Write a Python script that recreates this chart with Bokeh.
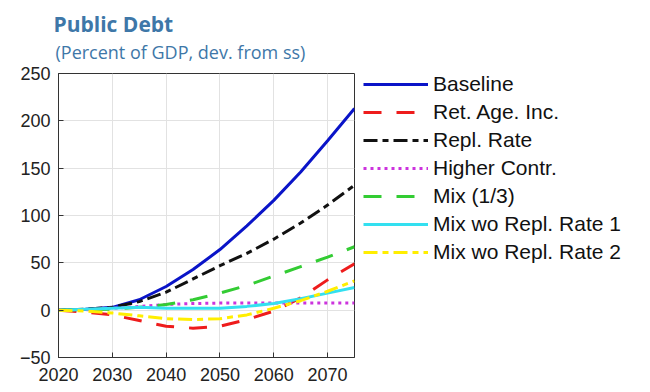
from bokeh.plotting import figure
from bokeh.models import Legend, LegendItem, Title, Range1d, FixedTicker
from bokeh.embed import file_html
from bokeh.resources import INLINE

years = [2020, 2025, 2030, 2035, 2040, 2045, 2050, 2055, 2060, 2065, 2070, 2075]
baseline = [0, 1, 3, 11, 25, 43, 64, 89, 116, 146, 179, 213]
ret_age = [0, -2, -5, -11, -17, -19, -17, -10, -1, 13, 32, 49]
repl_rate = [0, 1, 3, 9, 19, 33, 47, 60, 75, 92, 111, 132]
higher_contr = [0, 0.5, 2, 4, 6, 7, 7.5, 7.5, 7.5, 7.5, 7.5, 7.5]
mix13 = [0, 0.5, 1, 3, 6, 11, 18, 26, 36, 46, 56, 67]
mix_wo1 = [0, 1, 2, 3, 2, 2, 2, 4, 7, 12, 18, 24]
mix_wo2 = [0, -1, -3, -6, -9, -10, -9, -5, 2, 10, 20, 31]

names = ["Baseline", "Ret. Age. Inc.", "Repl. Rate", "Higher Contr.", "Mix (1/3)",
         "Mix wo Repl. Rate 1", "Mix wo Repl. Rate 2"]
series = [baseline, ret_age, repl_rate, higher_contr, mix13, mix_wo1, mix_wo2]
colors = ["#0a14c8", "#ee1c1c", "#111111", "#cc33dd", "#33cc33", "#33e0f0", "#ffee00"]
dashes = ["solid", "18 15", "14 5 6 5", "3 4", "18 15", "solid", "14 5 6 5"]

x_ticks = [2020, 2030, 2040, 2050, 2060, 2070]
y_ticks = [-50, 0, 50, 100, 150, 200, 250]

p = figure(frame_width=296, frame_height=284, output_backend="svg", toolbar_location=None,
           x_range=Range1d(2020, 2075), y_range=Range1d(-50, 250),
           min_border_left=58, min_border_top=73, min_border_right=288, min_border_bottom=27)
p.outline_line_color = "#333333"
p.background_fill_color = "white"
p.border_fill_color = "white"

for ax in (p.xaxis[0], p.yaxis[0]):
    ax.major_label_text_font = "Liberation Sans"
    ax.major_label_text_font_size = "18px"
    ax.major_label_text_color = "#222222"
    ax.axis_line_color = "#333333"
    ax.major_tick_line_color = "#333333"
    ax.major_tick_in = 5
    ax.major_tick_out = 0
    ax.minor_tick_line_color = None
p.xaxis.ticker = FixedTicker(ticks=x_ticks)
p.yaxis.ticker = FixedTicker(ticks=y_ticks)
p.xaxis.major_label_standoff = 10
p.yaxis.major_label_standoff = 8

p.xgrid.ticker = FixedTicker(ticks=x_ticks)
p.ygrid.ticker = FixedTicker(ticks=y_ticks)
p.grid.grid_line_color = "#e2e2e2"
p.grid.grid_line_width = 1

items = []
for name, ys, c, d in zip(names, series, colors, dashes):
    r = p.line(years, ys, line_color=c, line_width=3, line_dash=d)
    items.append(LegendItem(label=name, renderers=[r]))

legend = Legend(items=items, location=(9, 93))
legend.label_text_font = "Liberation Sans"
legend.label_text_font_size = "21px"
legend.label_text_color = "#111111"
legend.label_height = 18
legend.glyph_height = 18
legend.glyph_width = 65
legend.spacing = 4
legend.padding = 0
legend.margin = 0
legend.label_standoff = 5
legend.border_line_color = None
legend.background_fill_alpha = 0
p.add_layout(legend, "right")

sub = Title(text="(Percent of GDP, dev. from ss)", text_font="Open Sans", text_font_size="18px",
            text_font_style="normal", text_color="#3e77a8", align="left", offset=-3, standoff=20)
main = Title(text="Public Debt", text_font="Open Sans", text_font_size="21px",
             text_font_style="bold", text_color="#3e77a8", align="left", offset=-5, standoff=-20)
p.add_layout(sub, "above")
p.add_layout(main, "above")

open("out.html", "w").write(file_html(p, INLINE))
